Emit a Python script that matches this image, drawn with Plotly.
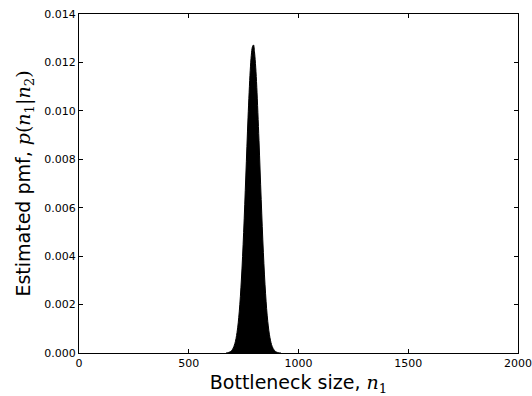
import plotly.graph_objects as go

# Bottleneck sizes (n1) and estimated pmf values
n1_values = [670, 680, 690, 700, 710, 720, 730, 740, 750, 760, 770, 780, 785,
             790, 795, 800, 805, 810, 820, 830, 840, 850, 860, 870, 880, 890,
             900, 910, 920]
pmf_values = [0.0, 0.000019, 0.000059, 0.000158, 0.000386, 0.000851, 0.001698,
              0.003056, 0.004973, 0.007311, 0.009712, 0.011657, 0.012295,
              0.012642, 0.012720, 0.012389, 0.011806, 0.010968, 0.008774,
              0.006343, 0.004143, 0.002445, 0.001304, 0.000628, 0.000273,
              0.000108, 0.000038, 0.000012, 0.0]

x_ticks = [0, 500, 1000, 1500, 2000]
y_ticks = [0.000, 0.002, 0.004, 0.006, 0.008, 0.010, 0.012, 0.014]

fig = go.Figure()
fig.add_trace(go.Scatter(
    x=n1_values, y=pmf_values, mode="lines", fill="tozeroy",
    line=dict(color="black", width=1), fillcolor="black",
    line_shape="spline", showlegend=False, hoverinfo="skip",
))

math = "font-family:'DejaVu Serif', 'Liberation Serif', serif"
fig.update_layout(
    width=532, height=396,
    margin=dict(l=79, r=14, t=14, b=43),
    paper_bgcolor="white", plot_bgcolor="white",
    font=dict(family="DejaVu Sans", color="black", size=11),
    xaxis=dict(
        range=[0, 2000], tickvals=x_ticks, ticktext=[str(v) for v in x_ticks],
        ticks="inside", ticklen=4, tickcolor="black", showline=True,
        linecolor="black", linewidth=1, mirror="ticks", showgrid=False,
        zeroline=False, automargin=False, ticklabeloverflow="allow",
        title=dict(text=f"Bottleneck size, <span style=\"{math}\"><i>n</i><sub>1</sub></span>",
                   font=dict(size=19), standoff=7),
    ),
    yaxis=dict(
        range=[0, 0.014], tickvals=y_ticks, tickformat=".3f",
        ticks="inside", ticklen=4, tickcolor="black", showline=True,
        linecolor="black", linewidth=1, mirror="ticks", showgrid=False,
        zeroline=False, automargin=False, ticklabeloverflow="allow",
        title=dict(text=f"Estimated pmf, <span style=\"{math}\"><i>p</i>(<i>n</i><sub>1</sub>|<i>n</i><sub>2</sub>)</span>",
                   font=dict(size=19), standoff=8),
    ),
)

fig.write_html("out.html", config={"displayModeBar": False},
               post_script="document.body.style.margin='0px';document.body.style.overflow='hidden';")
